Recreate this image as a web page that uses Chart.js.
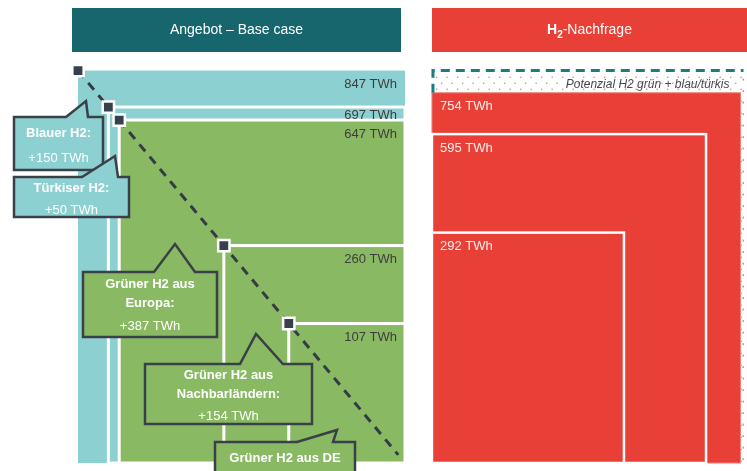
<!DOCTYPE html>
<html>
<head>
<meta charset="utf-8">
<script src="https://cdn.jsdelivr.net/npm/chart.js@4.4.1/dist/chart.umd.min.js"></script>
<style>
  body { margin: 0; background: #fff; }
  #wrap { width: 747px; height: 471px; }
</style>
</head>
<body>
<div id="wrap"><canvas id="h2-chart" width="747" height="471"></canvas></div>
<script>
// Angebot (nested areas, area ~ TWh)
const supplyValues = [847, 697, 647, 260, 107];
const supplyLabels = ['847 TWh', '697 TWh', '647 TWh', '260 TWh', '107 TWh'];
const supplyKinds = ['blau', 'blau', 'gruen', 'gruen', 'gruen'];

// Nachfrage
const demandValues = [754, 595, 292];
const demandLabels = ['754 TWh', '595 TWh', '292 TWh'];
const potentialValue = 847;
const potentialLabel = 'Potenzial H2 grün + blau/türkis';

// Callouts
const calloutTitles = [['Blauer H2:'], ['Türkiser H2:'], ['Grüner H2 aus', 'Europa:'], ['Grüner H2 aus', 'Nachbarländern:'], ['Grüner H2 aus DE']];
const calloutValues = ['+150 TWh', '+50 TWh', '+387 TWh', '+154 TWh', ''];
const panelTitles = ['Angebot – Base case', 'Nachfrage'];

const ASPECT = 1.2;          // height / width of every area
const DEMAND_X0 = 2.4;       // left edge of demand panel (in sqrt-TWh units)
const FONT = '"Liberation Sans", Arial, sans-serif';
const COL = {
  teal: '#8dd0d2', green: '#8ab964', red: '#e84036',
  head: '#17656d', dark: '#37414b', line: '#333c45', text: '#3d3d3d'
};

const side = v => Math.sqrt(v);
const corners = supplyValues.map(v => ({ x: -side(v), y: ASPECT * side(v) }));

// callout shapes (pixels): box + pointer triangle
const calloutBoxes = [
  { x: 14, y: 117, w: 89, h: 53, p: [66, 86, 101, 88], fill: COL.teal, ty: [133], vy: 158 },
  { x: 14, y: 177, w: 115, h: 40, p: [82, 115, 156, 118], fill: COL.teal, ty: [188], vy: 210 },
  { x: 83, y: 272, w: 134, h: 65, p: [154, 175, 244, 195], fill: COL.green, ty: [284, 303], vy: 326 },
  { x: 145, y: 364, w: 167, h: 60, p: [240, 256, 334, 283], fill: COL.green, ty: [375, 394], vy: 416 },
  { x: 215, y: 442, w: 140, h: 40, p: [297, 337, 430, 333], fill: COL.green, ty: [458], vy: 0 }
];

const areasPlugin = {
  id: 'areas',
  beforeDatasetsDraw(chart) {
    const { ctx, scales: { x, y } } = chart;
    ctx.save();

    // headers
    const lx0 = x.getPixelForValue(corners[0].x) - 6, lx1 = x.getPixelForValue(0) - 4;
    const rx0 = x.getPixelForValue(DEMAND_X0);
    ctx.fillStyle = COL.head;
    ctx.fillRect(lx0, 8, lx1 - lx0, 44);
    ctx.fillStyle = COL.red;
    ctx.fillRect(rx0, 8, chart.width - rx0, 44);
    ctx.fillStyle = '#fff';
    ctx.textBaseline = 'middle';
    ctx.textAlign = 'center';
    ctx.font = '14px ' + FONT;
    ctx.fillText(panelTitles[0], (lx0 + lx1) / 2, 30);
    // H2-Nachfrage with subscript
    const tail = '-' + panelTitles[1];
    ctx.font = 'bold 14px ' + FONT;
    const wH = ctx.measureText('H').width;
    ctx.font = 'bold 10px ' + FONT;
    const w2 = ctx.measureText('2').width;
    ctx.font = '14px ' + FONT;
    const wT = ctx.measureText(tail).width;
    let tx = (rx0 + chart.width) / 2 - (wH + w2 + wT) / 2;
    ctx.textAlign = 'left';
    ctx.font = 'bold 14px ' + FONT;
    ctx.fillText('H', tx, 30);
    ctx.font = 'bold 10px ' + FONT;
    ctx.fillText('2', tx + wH, 35);
    ctx.font = '14px ' + FONT;
    ctx.fillText(tail, tx + wH + w2, 30);

    // supply areas
    const x0 = x.getPixelForValue(0), y0 = y.getPixelForValue(0);
    supplyValues.forEach((v, i) => {
      const l = x.getPixelForValue(-side(v)), t = y.getPixelForValue(ASPECT * side(v));
      ctx.fillStyle = supplyKinds[i] === 'blau' ? COL.teal : COL.green;
      ctx.fillRect(l, t, x0 - l, y0 - t);
      if (i > 0) {
        ctx.strokeStyle = '#fff';
        ctx.lineWidth = 3;
        ctx.strokeRect(l, t, x0 - l, y0 - t);
      }
    });
    ctx.fillStyle = COL.text;
    ctx.font = '13px ' + FONT;
    ctx.textAlign = 'right';
    supplyValues.forEach((v, i) => {
      const t = y.getPixelForValue(ASPECT * side(v));
      const next = i + 1 < supplyValues.length ? y.getPixelForValue(ASPECT * side(supplyValues[i + 1])) : y0;
      const ly = next - t < 20 ? (t + next) / 2 + 2 : t + 14;
      ctx.fillText(supplyLabels[i], x0 - 8, ly);
    });

    // demand: potential band
    const pTop = y.getPixelForValue(ASPECT * side(potentialValue));
    const pRight = x.getPixelForValue(DEMAND_X0 + side(demandValues[0])) + 3;
    ctx.fillStyle = '#f08a8a';
    let row = 0;
    for (let yy = pTop + 6; yy < y0; yy += 6, row++) {
      for (let xx = rx0 + 4 + (row % 2) * 5; xx < pRight - 2; xx += 10.5) {
        ctx.fillRect(xx, yy, 1.4, 1.4);
      }
    }
    for (let yy = pTop + 8; yy < y0; yy += 11.5) ctx.fillRect(pRight - 1, yy, 1.5, 2);

    demandValues.forEach((v, i) => {
      const r = x.getPixelForValue(DEMAND_X0 + side(v)), t = y.getPixelForValue(ASPECT * side(v));
      ctx.fillStyle = COL.red;
      ctx.fillRect(rx0, t, r - rx0, y0 - t);
      ctx.strokeStyle = i > 0 ? '#fff' : '#f27f78';
      ctx.lineWidth = i > 0 ? 2.5 : 1;
      ctx.strokeRect(rx0, t, r - rx0, y0 - t);
    });
    ctx.fillStyle = '#fdeeee';
    ctx.textAlign = 'left';
    ctx.font = '13px ' + FONT;
    demandValues.forEach((v, i) => {
      ctx.fillText(demandLabels[i], rx0 + 8, y.getPixelForValue(ASPECT * side(v)) + 14);
    });

    // dashed outline of potential
    ctx.strokeStyle = '#1b7c82';
    ctx.lineWidth = 3;
    ctx.setLineDash([9, 6]);
    ctx.beginPath();
    ctx.moveTo(rx0 + 1, y.getPixelForValue(ASPECT * side(demandValues[0])));
    ctx.lineTo(rx0 + 1, pTop);
    ctx.lineTo(pRight, pTop);
    ctx.stroke();
    ctx.setLineDash([]);
    ctx.fillStyle = '#444a50';
    ctx.textAlign = 'right';
    ctx.font = 'italic 12px ' + FONT;
    ctx.fillText(potentialLabel, pRight - 14, pTop + 14);
    ctx.restore();
  },
  afterDatasetsDraw(chart) {
    const { ctx } = chart;
    ctx.save();
    calloutBoxes.forEach((b, i) => {
      ctx.beginPath();
      ctx.moveTo(b.x, b.y);
      ctx.lineTo(b.p[0], b.y);
      ctx.lineTo(b.p[1], b.p[2]);
      ctx.lineTo(b.p[3], b.y);
      ctx.lineTo(b.x + b.w, b.y);
      ctx.lineTo(b.x + b.w, b.y + b.h);
      ctx.lineTo(b.x, b.y + b.h);
      ctx.closePath();
      ctx.fillStyle = b.fill;
      ctx.fill();
      ctx.strokeStyle = '#394047';
      ctx.lineWidth = 2.5;
      ctx.lineJoin = 'miter';
      ctx.stroke();
      ctx.fillStyle = '#fff';
      ctx.textAlign = 'center';
      ctx.textBaseline = 'middle';
      ctx.font = 'bold 13px ' + FONT;
      const cx = b.x + b.w / 2;
      calloutTitles[i].forEach((t, j) => ctx.fillText(t, cx, b.ty[j]));
      if (calloutValues[i]) {
        ctx.font = '13px ' + FONT;
        ctx.fillText(calloutValues[i], cx, b.vy);
      }
    });
    ctx.restore();
  }
};

const k = 11.236; // px per sqrt-TWh unit
new Chart(document.getElementById('h2-chart'), {
  type: 'scatter',
  data: {
    datasets: [
      {
        label: 'Marker',
        data: corners,
        pointStyle: 'rect',
        pointRadius: 8,
        pointHoverRadius: 8,
        backgroundColor: COL.dark,
        borderColor: '#fff',
        borderWidth: 2.5
      },
      {
        type: 'line',
        label: 'Diagonale',
        data: [corners[0], { x: -0.6, y: 0.72 }],
        borderColor: COL.line,
        borderWidth: 3,
        borderDash: [9, 7],
        pointRadius: 0,
        fill: false
      }
    ]
  },
  options: {
    responsive: false,
    animation: false,
    devicePixelRatio: 1,
    layout: { padding: 0, autoPadding: false },
    plugins: { legend: { display: false }, tooltip: { enabled: false } },
    scales: {
      x: { type: 'linear', display: false, min: -405 / k, max: (747 - 405) / k },
      y: { type: 'linear', display: false, min: -(471 - 463) / k, max: 463 / k }
    }
  },
  plugins: [areasPlugin]
});
</script>
</body>
</html>
